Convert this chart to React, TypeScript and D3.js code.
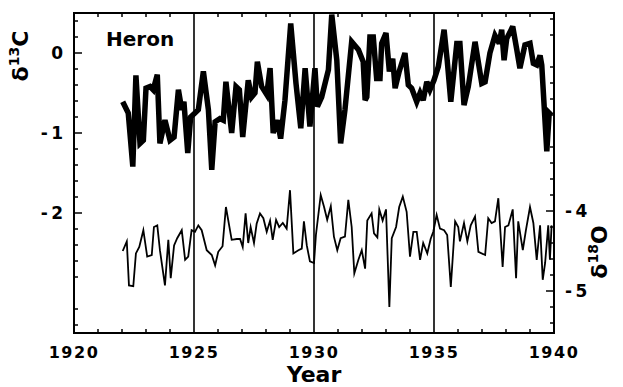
import React from 'react';
import * as d3 from 'd3';

const c13Years = [1922.03,1922.26,1922.45,1922.58,1922.75,1922.89,1923.0,1923.17,1923.3,1923.47,1923.58,1923.79,1924.0,1924.17,1924.35,1924.49,1924.58,1924.74,1924.86,1925.04,1925.18,1925.39,1925.6,1925.74,1925.88,1926.08,1926.22,1926.33,1926.57,1926.75,1926.89,1927.03,1927.26,1927.4,1927.54,1927.64,1927.82,1928.03,1928.17,1928.3,1928.47,1928.61,1928.79,1929.03,1929.25,1929.45,1929.63,1929.83,1930.04,1930.14,1930.32,1930.6,1930.74,1930.95,1931.11,1931.29,1931.57,1931.85,1932.05,1932.13,1932.2,1932.33,1932.47,1932.61,1932.75,1932.82,1933.0,1933.14,1933.28,1933.38,1933.55,1933.79,1933.93,1934.07,1934.28,1934.42,1934.55,1934.7,1934.83,1935.0,1935.18,1935.42,1935.55,1935.7,1935.95,1936.08,1936.25,1936.43,1936.71,1936.99,1937.13,1937.33,1937.54,1937.72,1937.82,1937.92,1938.03,1938.28,1938.45,1938.58,1938.79,1939.0,1939.14,1939.28,1939.42,1939.49,1939.7,1939.8,1939.9];
const c13Values = [-0.61,-0.75,-1.42,-0.28,-1.13,-1.09,-0.44,-0.42,-0.46,-0.27,-1.13,-0.84,-1.09,-1.05,-0.46,-0.71,-0.61,-1.25,-0.80,-0.75,-0.71,-0.23,-0.71,-1.46,-0.86,-0.82,-0.84,-0.36,-1.0,-0.42,-0.46,-1.05,-0.34,-0.55,-0.50,-0.11,-0.42,-0.52,-0.19,-1.0,-0.84,-1.07,-0.59,0.37,-0.38,-0.94,-0.19,-0.92,-0.19,-0.67,-0.55,-0.21,0.48,-0.09,-1.13,-0.71,0.14,0.04,-0.11,-0.59,-0.55,0.2,0.2,-0.32,-0.32,0.12,0.25,-0.23,-0.07,-0.44,-0.23,0.0,-0.4,-0.44,-0.61,-0.5,-0.59,-0.36,-0.46,-0.34,-0.17,0.29,-0.09,-0.61,0.12,0.12,-0.65,-0.42,0.14,-0.38,-0.36,0.0,0.22,0.12,0.29,-0.09,0.18,0.33,0.04,-0.19,0.1,0.12,-0.13,-0.15,-0.03,-0.15,-1.23,-0.75,-0.78];

const o18Years = [1922.03,1922.2,1922.29,1922.47,1922.58,1922.72,1922.89,1923.05,1923.24,1923.33,1923.47,1923.58,1923.79,1923.93,1924.03,1924.17,1924.3,1924.49,1924.63,1924.76,1924.9,1925.04,1925.18,1925.32,1925.53,1925.74,1925.88,1926.01,1926.19,1926.33,1926.57,1926.78,1926.92,1927.03,1927.15,1927.26,1927.36,1927.5,1927.61,1927.75,1927.89,1928.03,1928.17,1928.28,1928.42,1928.55,1928.7,1928.86,1929.0,1929.14,1929.35,1929.49,1929.58,1929.7,1929.83,1930.0,1930.08,1930.28,1930.42,1930.55,1930.7,1930.83,1930.97,1931.11,1931.29,1931.43,1931.57,1931.68,1931.85,1931.99,1932.13,1932.22,1932.4,1932.5,1932.64,1932.72,1932.86,1933.0,1933.14,1933.24,1933.42,1933.55,1933.7,1933.86,1934.0,1934.14,1934.28,1934.42,1934.55,1934.72,1934.86,1934.97,1935.11,1935.25,1935.42,1935.55,1935.7,1935.88,1936.01,1936.08,1936.25,1936.39,1936.53,1936.71,1936.85,1937.13,1937.26,1937.4,1937.54,1937.68,1937.86,1937.96,1938.1,1938.28,1938.42,1938.51,1938.7,1938.83,1939.0,1939.14,1939.28,1939.42,1939.53,1939.63,1939.76,1939.83,1939.9];
const o18Values = [-4.50,-4.38,-4.93,-4.94,-4.53,-4.45,-4.24,-4.57,-4.55,-4.20,-4.18,-4.49,-4.93,-4.36,-4.84,-4.43,-4.34,-4.24,-4.61,-4.57,-4.24,-4.26,-4.18,-4.24,-4.49,-4.55,-4.68,-4.51,-4.44,-3.95,-4.36,-4.35,-4.35,-4.45,-4.03,-4.40,-4.20,-4.40,-4.16,-4.03,-4.09,-4.26,-4.12,-4.36,-4.11,-4.20,-4.15,-4.22,-3.74,-4.53,-4.49,-4.47,-4.13,-4.43,-4.63,-4.65,-4.30,-3.80,-3.95,-4.11,-3.94,-4.32,-4.49,-4.34,-4.32,-3.86,-4.20,-4.78,-4.61,-4.49,-4.72,-4.12,-4.03,-4.28,-4.33,-3.98,-4.12,-3.98,-5.20,-4.34,-4.20,-3.95,-3.82,-4.01,-4.57,-4.26,-4.26,-4.61,-4.40,-4.53,-4.35,-4.26,-4.05,-4.22,-4.24,-4.30,-4.95,-4.13,-4.20,-4.38,-4.15,-4.38,-4.18,-4.07,-4.51,-4.55,-4.09,-4.15,-4.13,-3.84,-4.70,-4.20,-4.18,-3.98,-4.84,-4.13,-4.49,-4.24,-3.95,-4.15,-4.61,-4.18,-4.86,-4.65,-4.18,-4.61,-4.18];

const yearTicks = [1920, 1925, 1930, 1935, 1940];
const dividerYears = [1925, 1930, 1935];
const leftTicks = [0, -1, -2];
const rightTicks = [-4, -5];
const siteLabel = 'Heron';

const FONT = '"DejaVu Sans", "Liberation Sans", Arial, sans-serif';

export default function App() {
  const W = 623, H = 387;
  const x = d3.scaleLinear().domain([1920, 1940]).range([74, 554]);
  const yL = d3.scaleLinear().domain([-3.5, 0.5]).range([333, 13]);
  const yR = d3.scaleLinear().domain([-5.525, -1.525]).range([333, 13]);
  const [x0, x1] = x.range();
  const [yb, yt] = yL.range();

  const nC = Math.min(c13Years.length, c13Values.length);
  const cPts: [number, number][] = d3.range(nC).map(i => [c13Years[i], c13Values[i]]);
  const nO = Math.min(o18Years.length, o18Values.length);
  const oPts: [number, number][] = d3.range(nO).map(i => [o18Years[i], o18Values[i]]);

  const lineC = d3.line<[number, number]>().x(d => x(d[0])).y(d => yL(d[1]));
  const lineO = d3.line<[number, number]>().x(d => x(d[0])).y(d => yR(d[1]));

  const minorYears = d3.range(1921, 1940).filter(v => v % 5 !== 0);
  const leftMinor = d3.range(-17, 3).map(k => k / 5).filter(v => Math.abs(v - Math.round(v)) > 1e-6);
  const rightMinor = d3.range(-27, -7).map(k => k / 5).filter(v => v > -5.525 && v < -1.525 && Math.abs(v - Math.round(v)) > 1e-6);

  return (
    <svg width={W} height={H} style={{ position: 'absolute', left: 0, top: 0, background: '#fff' }} fontFamily={FONT}>
      <rect x={0} y={0} width={W} height={H} fill="#fff" />
      <defs>
        <clipPath id="plotClip">
          <rect x={x0} y={yt} width={x1 - x0} height={yb - yt} />
        </clipPath>
      </defs>

      {dividerYears.map(v => (
        <line key={'d' + v} x1={x(v)} x2={x(v)} y1={yt} y2={yb} stroke="#000" strokeWidth={1.6} />
      ))}

      {minorYears.map(v => (
        <g key={'m' + v}>
          <line x1={x(v)} x2={x(v)} y1={yt} y2={yt + 4} stroke="#000" strokeWidth={1.5} />
          <line x1={x(v)} x2={x(v)} y1={yb} y2={yb - 4} stroke="#000" strokeWidth={1.5} />
        </g>
      ))}

      {leftMinor.map(v => (
        <line key={'lm' + v} x1={x0} x2={x0 + 4} y1={yL(v)} y2={yL(v)} stroke="#000" strokeWidth={1.5} />
      ))}
      {leftTicks.map(v => (
        <line key={'lM' + v} x1={x0} x2={x0 + 8} y1={yL(v)} y2={yL(v)} stroke="#000" strokeWidth={1.5} />
      ))}
      {rightMinor.map(v => (
        <line key={'rm' + v} x1={x1} x2={x1 - 4} y1={yR(v)} y2={yR(v)} stroke="#000" strokeWidth={1.5} />
      ))}
      {rightTicks.map(v => (
        <line key={'rM' + v} x1={x1} x2={x1 - 8} y1={yR(v)} y2={yR(v)} stroke="#000" strokeWidth={1.5} />
      ))}

      <g clipPath="url(#plotClip)">
        <path d={lineO(oPts) || ''} fill="none" stroke="#000" strokeWidth={1.8} strokeLinejoin="miter" strokeMiterlimit={6} />
        <path d={lineC(cPts) || ''} fill="none" stroke="#000" strokeWidth={5.5} strokeLinejoin="miter" strokeMiterlimit={3} />
      </g>

      <rect x={x0} y={yt} width={x1 - x0} height={yb - yt} fill="none" stroke="#000" strokeWidth={2} />

      {yearTicks.map(v => (
        <text key={'xt' + v} x={x(v)} y={358} textAnchor="middle" fontSize={16} fontWeight="bold" letterSpacing={1.5}>{v}</text>
      ))}
      <text x={(x0 + x1) / 2} y={382} textAnchor="middle" fontSize={22} fontWeight="bold">Year</text>

      {leftTicks.map(v => (
        <text key={'yl' + v} x={63} y={yL(v)} dy="0.36em" textAnchor="end" fontSize={17} fontWeight="bold">
          {v < 0 ? '-\u2009' + Math.abs(v) : String(v)}
        </text>
      ))}
      {rightTicks.map(v => (
        <text key={'yr' + v} x={565} y={yR(v)} dy="0.36em" textAnchor="start" fontSize={17} fontWeight="bold">
          {'-\u2009' + Math.abs(v)}
        </text>
      ))}

      <text transform="translate(28,56) rotate(-90)" textAnchor="middle" fontSize={22} fontWeight="bold">
        δ<tspan fontSize={14} dy={-9}>13</tspan><tspan dy={9}>C</tspan>
      </text>
      <text transform="translate(607,252) rotate(-90)" textAnchor="middle" fontSize={22} fontWeight="bold">
        δ<tspan fontSize={14} dy={-9}>18</tspan><tspan dy={9}>O</tspan>
      </text>

      <text x={106} y={46} fontSize={20} fontWeight="bold">{siteLabel}</text>
    </svg>
  );
}
